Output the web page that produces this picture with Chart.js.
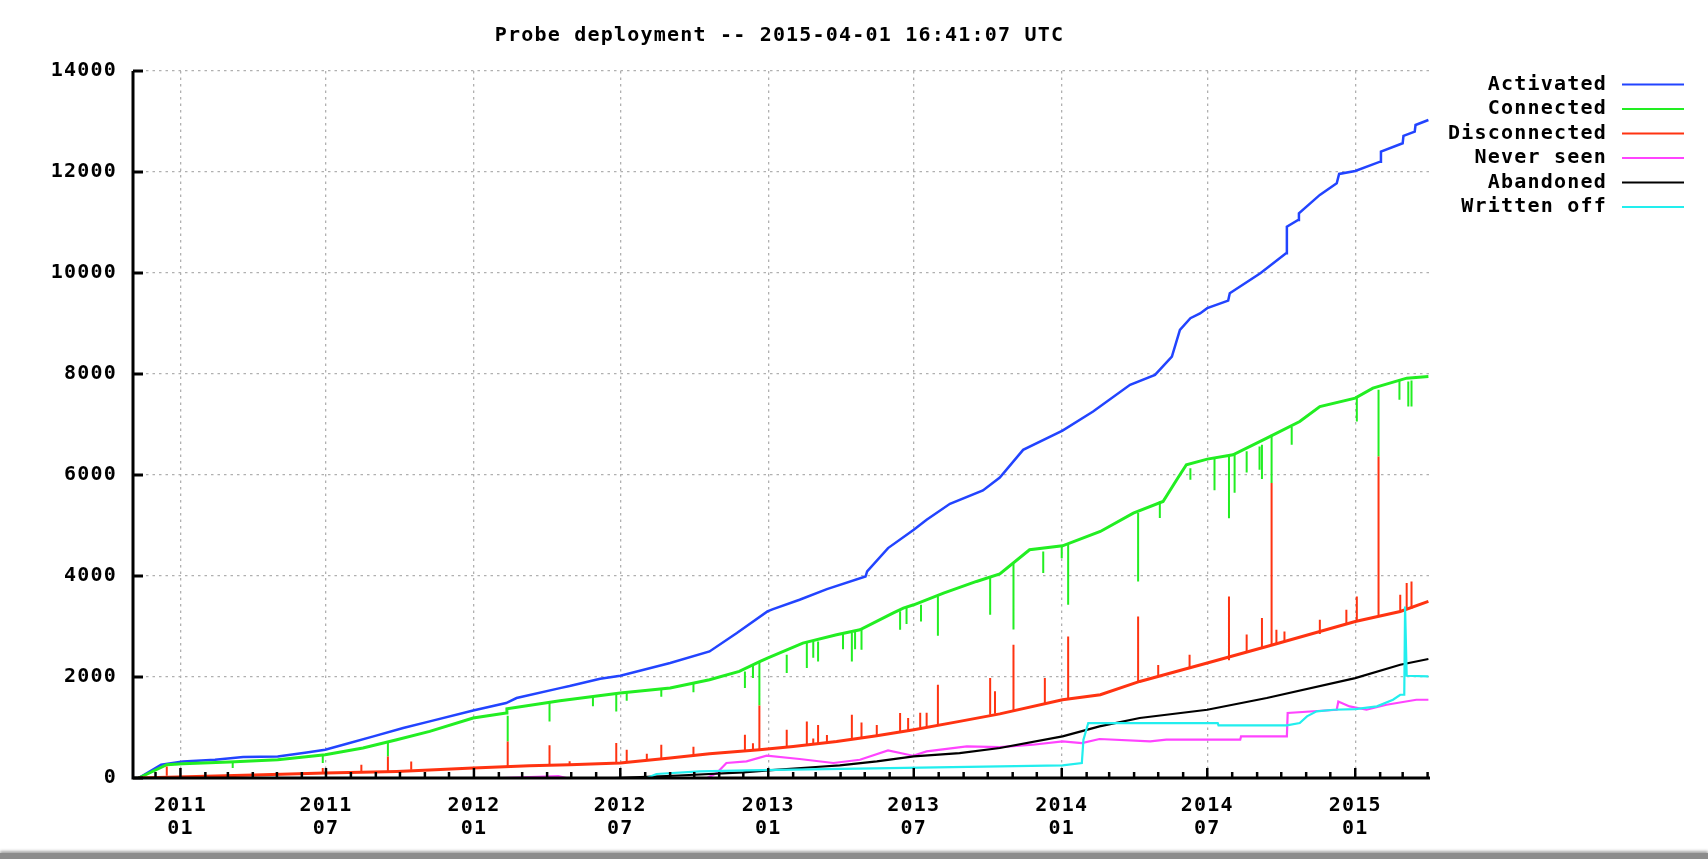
<!DOCTYPE html>
<html>
<head>
<meta charset="utf-8">
<title>Probe deployment</title>
<script src="https://cdn.jsdelivr.net/npm/chart.js@4.4.1/dist/chart.umd.min.js"></script>
<style>
  html, body { margin: 0; padding: 0; background: #fff; }
  #wrap { position: relative; width: 1708px; height: 859px; overflow: hidden; }
  #probeChart { display: block; }
  #shadow { position: absolute; left: 0; right: 0; bottom: 0; height: 6px; background: #8c8c8c; box-shadow: 0 -2px 3px rgba(0,0,0,0.35); }
</style>
</head>
<body>
<div id="wrap">
  <canvas id="probeChart" width="1708" height="859"></canvas>
  <div id="shadow"></div>
</div>
<script>
// x values are days counted from 2011-01-01
const DAY0 = Date.UTC(2011, 0, 1);
const toDay = s => (Date.parse(s + 'T00:00:00Z') - DAY0) / 86400000;

const chartTitle = 'Probe deployment -- 2015-04-01 16:41:07 UTC';
const seriesNames = ['Activated', 'Connected', 'Disconnected', 'Never seen', 'Abandoned', 'Written off'];

const xTickDates = ['2011-01-01', '2011-07-01', '2012-01-01', '2012-07-01', '2013-01-01',
                    '2013-07-01', '2014-01-01', '2014-07-01', '2015-01-01'];
const xTickLabels = [['2011', '01'], ['2011', '07'], ['2012', '01'], ['2012', '07'], ['2013', '01'],
                     ['2013', '07'], ['2014', '01'], ['2014', '07'], ['2015', '01']];
const yTicks = [0, 2000, 4000, 6000, 8000, 10000, 12000, 14000];

// Activated
const activatedDays = [-52, -24, 3, 43, 78, 121, 157, 180, 207, 240, 277, 310, 364, 405, 418, 472, 484, 522, 547,
  609, 658, 692, 730, 737, 770, 804, 852, 854, 880, 912, 928, 957, 998, 1019, 1048, 1097, 1135, 1181, 1212,
  1233, 1243, 1256, 1268, 1277, 1303, 1305, 1343, 1375, 1376, 1390, 1391, 1417, 1438, 1441, 1461, 1492, 1493,
  1520, 1521, 1535, 1536, 1552];
const activatedCount = [0, 263, 329, 362, 416, 428, 507, 560, 679, 824, 990, 1121, 1338, 1485, 1584, 1780, 1820, 1966, 2025,
  2277, 2506, 2870, 3298, 3345, 3530, 3741, 3990, 4090, 4553, 4915, 5113, 5430, 5693, 5950, 6498, 6880, 7256, 7785, 7983,
  8345, 8874, 9105, 9200, 9304, 9454, 9600, 9996, 10392, 10918, 11051, 11184, 11546, 11778, 11962, 12021, 12205, 12403,
  12569, 12714, 12799, 12931, 13030];

// Connected (upper envelope) and its short dips [day, from, to]
const connectedDays = [-52, -17, 3, 61, 121, 180, 227, 269, 310, 364, 405, 406, 472, 547, 609, 658, 695, 721, 730,
  774, 816, 845, 886, 899, 912, 949, 990, 1019, 1056, 1097, 1144, 1185, 1222, 1239, 1251, 1277, 1309, 1351, 1392,
  1417, 1461, 1483, 1525, 1552];
const connectedCount = [0, 263, 283, 317, 362, 461, 594, 758, 923, 1188, 1287, 1372, 1530, 1682, 1782, 1946, 2110, 2308, 2375,
  2672, 2837, 2936, 3266, 3365, 3430, 3662, 3892, 4040, 4519, 4598, 4881, 5246, 5475, 5905, 6202, 6314, 6399, 6730, 7059,
  7356, 7522, 7720, 7918, 7950];
const connectedDips = [
  [65, 329, 198], [177, 461, 297], [258, 725, 428], [407, 1234, 725], [459, 1516, 1121], [513, 1600, 1420],
  [542, 1682, 1318], [555, 1690, 1530], [598, 1780, 1610], [638, 1870, 1700], [702, 2110, 1782], [712, 2250, 1980],
  [720, 2300, 1437], [754, 2441, 2078], [779, 2672, 2177], [787, 2720, 2380], [793, 2704, 2308], [824, 2860, 2550],
  [835, 2870, 2308], [839, 2900, 2550], [847, 2936, 2540], [895, 3300, 2936], [903, 3370, 3050], [921, 3430, 3100],
  [942, 3600, 2817], [1007, 3980, 3233], [1036, 4250, 2943], [1073, 4485, 4058], [1096, 4598, 4350],
  [1104, 4620, 3430], [1191, 5246, 3892], [1218, 5480, 5150], [1256, 6136, 5905], [1286, 6330, 5700],
  [1304, 6400, 5146], [1311, 6400, 5650], [1326, 6470, 6050], [1342, 6563, 6102], [1345, 6600, 5920],
  [1357, 6796, 5840], [1382, 6950, 6600], [1463, 7554, 7059], [1490, 7686, 6366], [1516, 7884, 7488],
  [1527, 7850, 7356], [1531, 7870, 7356]];

// Disconnected (lower envelope) and its short peaks [day, from, to]
const disconnectedDays = [-52, 103, 180, 269, 364, 434, 484, 547, 609, 658, 720, 762, 816, 866, 912, 969, 1019,
  1097, 1144, 1193, 1277, 1351, 1461, 1517, 1552];
const disconnectedCount = [0, 65, 99, 131, 198, 243, 263, 297, 396, 481, 560, 626, 725, 837, 956, 1121, 1270,
  1550, 1649, 1912, 2276, 2605, 3100, 3298, 3496];
const disconnectedPeaks = [
  [-17, 45, 230], [177, 99, 200], [225, 99, 263], [258, 131, 428], [287, 164, 329], [407, 230, 725],
  [459, 263, 650], [484, 263, 330], [542, 297, 693], [555, 310, 560], [580, 340, 480], [598, 380, 660],
  [638, 430, 620], [702, 527, 857], [712, 540, 690], [720, 560, 1437], [754, 626, 956], [779, 659, 1121],
  [787, 660, 780], [793, 680, 1050], [804, 690, 850], [835, 758, 1253], [847, 800, 1100], [866, 837, 1050],
  [895, 930, 1287], [905, 930, 1190], [920, 980, 1290], [928, 1000, 1290], [942, 1055, 1847], [1007, 1253, 1979],
  [1013, 1270, 1720], [1036, 1330, 2638], [1075, 1485, 1979], [1104, 1584, 2803], [1191, 1912, 3199],
  [1216, 2000, 2240], [1255, 2180, 2440], [1304, 2330, 3595], [1326, 2480, 2840], [1345, 2580, 3167],
  [1357, 2640, 5840], [1363, 2660, 2936], [1373, 2700, 2900], [1417, 2850, 3133], [1450, 3050, 3330],
  [1463, 3100, 3595], [1490, 3222, 6366], [1517, 3298, 3630], [1525, 3330, 3860], [1531, 3350, 3890]];

// Never seen
const neverSeenDays = [-52, 400, 470, 480, 655, 667, 679, 704, 729, 770, 812, 845, 880, 911, 928, 978, 1019, 1060,
  1097, 1121, 1143, 1206, 1226, 1318, 1319, 1376, 1377, 1438, 1440, 1454, 1475, 1500, 1537, 1552];
const neverSeenCount = [0, 0, 40, 0, 0, 99, 297, 329, 441, 376, 297, 362, 546, 441, 527, 626, 610, 659,
  725, 692, 772, 725, 758, 758, 824, 824, 1287, 1352, 1516, 1417, 1352, 1451, 1550, 1550];

// Abandoned
const abandonedDays = [-52, 540, 620, 700, 731, 790, 820, 866, 912, 969, 1019, 1097, 1143, 1193, 1277, 1351, 1461, 1517, 1552];
const abandonedCount = [0, 0, 50, 110, 150, 218, 251, 329, 428, 494, 594, 824, 1022, 1188, 1352, 1584, 1979, 2243, 2356];

// Written off
const writtenOffDays = [-52, 580, 592, 646, 704, 1019, 1097, 1121, 1123, 1129, 1290, 1291, 1376, 1392, 1401, 1413,
  1434, 1461, 1488, 1508, 1517, 1522, 1523, 1525, 1552];
const writtenOffCount = [0, 0, 79, 131, 151, 230, 250, 297, 758, 1088, 1088, 1042, 1042, 1088, 1220, 1319,
  1352, 1365, 1418, 1550, 1649, 1649, 3397, 2025, 2012];

const colors = ['#2244ff', '#22ee22', '#ff3311', '#ff44ff', '#000000', '#22eeee'];
const widths = [2.5, 3, 3, 2.2, 2.2, 2.2];
const FONT = { family: '"DejaVu Sans Mono", "Liberation Mono", monospace', size: 20, weight: 'bold', lineHeight: 1.15 };

const pts = (days, vals) => days.map((d, i) => ({ x: d, y: vals[i] }));
// vertical strokes, separated by gaps
const strokes = list => list.flatMap(([d, a, b]) => [{ x: d, y: a }, { x: d, y: b }, { x: d, y: null }]);

const majorDays = xTickDates.map(toDay);
const monthDays = [];
for (let y = 2010; y <= 2015; y++) {
  for (let m = 0; m < 12; m++) {
    const d = (Date.UTC(y, m, 1) - DAY0) / 86400000;
    if (d >= -59 && d <= 1554) monthDays.push(d);
  }
}

const lineSet = (label, data, i, order, w) => ({
  label, data, borderColor: colors[i], backgroundColor: colors[i], borderWidth: w || widths[i],
  pointRadius: 0, tension: 0, fill: false, spanGaps: false, order
});

const gnuplotLook = {
  id: 'gnuplotLook',
  beforeDraw(chart) {
    chart.ctx.letterSpacing = '1.2px';
  },
  afterDatasetsDraw(chart) {
    const { ctx, chartArea: a, scales: { x, y } } = chart;
    ctx.save();
    ctx.strokeStyle = '#000';
    ctx.lineCap = 'butt';
    // axes
    ctx.lineWidth = 3;
    ctx.beginPath();
    ctx.moveTo(a.left, a.top);
    ctx.lineTo(a.left, a.bottom);
    ctx.lineTo(a.right, a.bottom);
    ctx.stroke();
    // y ticks, pointing inward
    yTicks.forEach(v => {
      const py = y.getPixelForValue(v);
      ctx.beginPath();
      ctx.moveTo(a.left, py);
      ctx.lineTo(a.left + 10, py);
      ctx.stroke();
    });
    // month ticks on the time axis
    ctx.lineWidth = 2.5;
    monthDays.forEach(d => {
      const px = x.getPixelForValue(d);
      const len = majorDays.includes(d) ? 10 : 6;
      ctx.beginPath();
      ctx.moveTo(px, a.bottom);
      ctx.lineTo(px, a.bottom - len);
      ctx.stroke();
    });
    ctx.restore();
  },
  afterDraw(chart) {
    const { ctx, chartArea: a } = chart;
    ctx.save();
    ctx.font = `bold ${FONT.size}px ${FONT.family}`;
    ctx.fillStyle = '#000';
    ctx.textBaseline = 'middle';
    ctx.textAlign = 'center';
    ctx.fillText(chartTitle, (a.left + a.right) / 2 - 2, 36);
    // legend: text right aligned, sample line after it
    seriesNames.forEach((name, i) => {
      const ly = 84.5 + i * 24.5;
      ctx.textAlign = 'right';
      ctx.fillStyle = '#000';
      ctx.fillText(name, 1607, ly);
      ctx.strokeStyle = colors[i];
      ctx.lineWidth = 2;
      ctx.beginPath();
      ctx.moveTo(1622, ly);
      ctx.lineTo(1684, ly);
      ctx.stroke();
    });
    ctx.restore();
  }
};

Chart.defaults.font = FONT;
Chart.defaults.color = '#000';

new Chart(document.getElementById('probeChart').getContext('2d'), {
  type: 'line',
  data: {
    datasets: [
      lineSet(seriesNames[0], pts(activatedDays, activatedCount), 0, 8),
      lineSet(seriesNames[1], pts(connectedDays, connectedCount), 1, 7),
      lineSet('Connected dips', strokes(connectedDips), 1, 6, 2),
      lineSet(seriesNames[2], pts(disconnectedDays, disconnectedCount), 2, 5),
      lineSet('Disconnected peaks', strokes(disconnectedPeaks), 2, 4, 2),
      lineSet(seriesNames[3], pts(neverSeenDays, neverSeenCount), 3, 3),
      lineSet(seriesNames[4], pts(abandonedDays, abandonedCount), 4, 2),
      lineSet(seriesNames[5], pts(writtenOffDays, writtenOffCount), 5, 1)
    ]
  },
  options: {
    responsive: false,
    animation: false,
    devicePixelRatio: 1,
    layout: { padding: { top: 71, right: 278, left: 0, bottom: 0 } },
    scales: {
      x: {
        type: 'linear',
        min: -59,
        max: 1554,
        afterFit: s => { s.height = 81; },
        afterBuildTicks: s => { s.ticks = majorDays.map(v => ({ value: v })); },
        grid: { color: '#b0b0b0', lineWidth: 1.3, drawTicks: false },
        border: { display: false, dash: [2.5, 4] },
        ticks: {
          autoSkip: false,
          maxRotation: 0,
          padding: 16,
          callback: (v, i) => xTickLabels[i]
        }
      },
      y: {
        min: 0,
        max: 14000,
        afterFit: s => { s.width = 133; },
        afterBuildTicks: s => { s.ticks = yTicks.map(v => ({ value: v })); },
        grid: { color: '#b0b0b0', lineWidth: 1.3, drawTicks: false },
        border: { display: false, dash: [2.5, 4] },
        ticks: { padding: 16, callback: v => String(v) }
      }
    },
    plugins: {
      legend: { display: false },
      tooltip: { enabled: false },
      title: { display: false }
    }
  },
  plugins: [gnuplotLook]
});
</script>
</body>
</html>
